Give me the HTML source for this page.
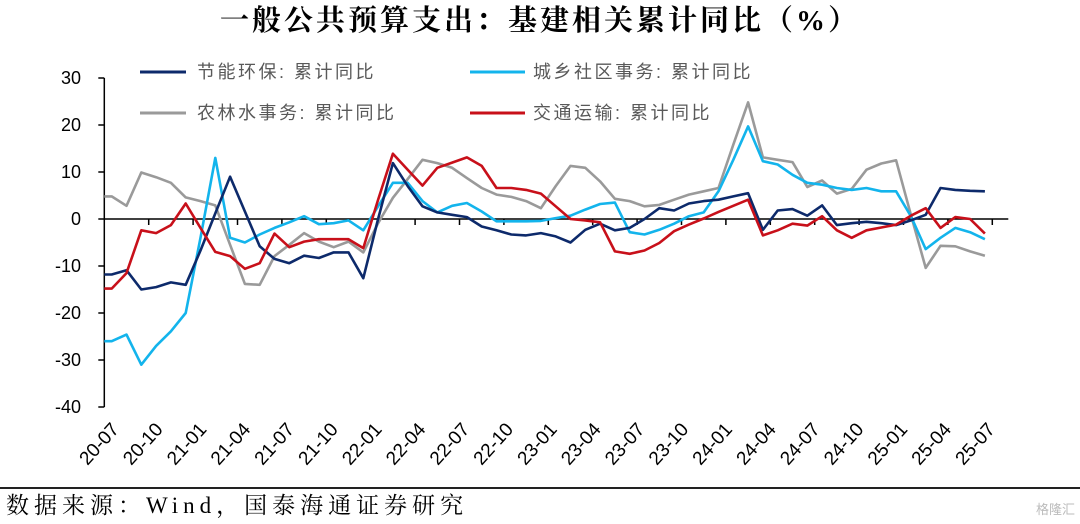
<!DOCTYPE html>
<html><head><meta charset="utf-8"><style>
body{margin:0;background:#fff;}
svg{display:block;}
</style></head><body>
<svg id="chart" width="1080" height="524" xmlns="http://www.w3.org/2000/svg">
<text x="540" y="30" text-anchor="middle" font-family="'Liberation Serif','Noto Serif CJK SC',serif" font-size="29" font-weight="bold" letter-spacing="3" fill="#000">一般公共预算支出：基建相关累计同比（%）</text>
<g id="plot"></g>
<g font-family="'Liberation Sans','Noto Sans CJK SC',sans-serif" font-size="18" letter-spacing="2.5" fill="#595959">
<g><line x1="140" y1="72" x2="186" y2="72" stroke="#0d2a6b" stroke-width="3"/><text x="197" y="78">节能环保: 累计同比</text></g>
<g><line x1="470" y1="72" x2="525" y2="72" stroke="#13b4ec" stroke-width="3"/><text x="533" y="78">城乡社区事务: 累计同比</text></g>
<g><line x1="140" y1="113" x2="186" y2="113" stroke="#9a9a9a" stroke-width="3"/><text x="197" y="119">农林水事务: 累计同比</text></g>
<g><line x1="470" y1="113" x2="525" y2="113" stroke="#c8101a" stroke-width="3"/><text x="533" y="119">交通运输: 累计同比</text></g>
</g>
<line x1="0" y1="488" x2="1080" y2="488" stroke="#222" stroke-width="2"/>
<text x="6" y="513" font-family="'Liberation Serif','Noto Serif CJK SC',serif" font-size="23" letter-spacing="5" fill="#000">数据来源：Wind，国泰海通证券研究</text>
<text x="1075" y="514" text-anchor="end" font-family="'Liberation Sans','Noto Sans CJK SC',sans-serif" font-size="13" fill="#bbb">格隆汇</text>
</svg>
<script>
const xLabels=["20-07","20-10","21-01","21-04","21-07","21-10","22-01","22-04","22-07","22-10","23-01","23-04","23-07","23-10","24-01","24-04","24-07","24-10","25-01","25-04","25-07"];
const yTicks=[30,20,10,0,-10,-20,-30,-40];
const energy=[-11.8,-10.9,-15,-14.5,-13.5,-14,-6.7,1.2,9,1.6,-5.8,-8.5,-9.4,-7.8,-8.3,-7.1,-7.1,-12.6,0,11.9,7,2.7,1.4,0.9,0.4,-1.6,-2.4,-3.3,-3.5,-3,-3.7,-5,-2.3,-1,-2.4,-1.9,0,2.3,1.8,3.3,3.8,4.1,4.8,5.5,-2.3,1.8,2.1,0.7,2.9,-1.3,-0.9,-0.6,-0.9,-1.3,-0.3,0.9,6.6,6.2,6,5.9];
const urban=[-26,-24.6,-31,-27,-23.9,-20,-4,13,-4,-5,-3.3,-1.9,-0.7,0.6,-1.1,-0.9,-0.3,-2.4,2.7,7.7,7.7,3.8,1.4,2.8,3.4,1.6,-0.5,-0.5,-0.5,-0.4,0.2,0.7,2,3.2,3.5,-2.8,-3.3,-2.3,-1,0.6,1.4,5.9,12.6,19.7,12.3,11.6,9.4,7.7,7.3,6.6,6.2,6.6,5.9,5.9,0.6,-6.4,-4,-1.9,-2.8,-4.3];
const agri=[4.8,2.8,9.9,8.9,7.7,4.6,3.8,2.9,-5.5,-13.8,-14,-7.9,-5.5,-3,-4.8,-6,-4.8,-7.1,-0.9,4.5,8.5,12.6,11.9,10.9,8.7,6.6,5.2,4.7,3.8,2.3,7,11.3,10.9,8,4.3,3.8,2.7,3,4.1,5.2,5.9,6.6,15.8,24.8,13.1,12.6,12.1,6.8,8.2,5.4,6.4,10.5,11.8,12.5,0.9,-10.4,-5.7,-5.8,-6.9,-7.8];
const transport=[-14.8,-11.5,-2.4,-3,-1.3,3.3,-1.9,-7,-7.9,-10.6,-9.4,-3.1,-6,-4.8,-4.3,-4.3,-4.3,-6.2,4.1,13.9,10.5,7.1,10.9,12,13.1,11.3,6.6,6.6,6.2,5.4,2.7,0,-0.3,-0.7,-6.9,-7.4,-6.7,-5.1,-2.6,-1.2,0.1,1.5,2.8,4.1,-3.5,-2.4,-1,-1.4,0.6,-2.4,-4,-2.4,-1.8,-1.2,0.7,2.3,-1.9,0.4,0,-3.1];

const NS="http://www.w3.org/2000/svg";
const g=document.getElementById('plot');
const X0=104.3, X1=992.3, N=energy.length, W=(X1-X0)/N;
const xs=i=>X0+(i+0.5)*W;
const ys=v=>219-v*4.7;
function mk(t,a){const e=document.createElementNS(NS,t);for(const k in a)e.setAttribute(k,a[k]);g.appendChild(e);return e;}
let ax=mk('line',{x1:X0,y1:ys(30),x2:X0,y2:ys(-40),stroke:'#000','stroke-width':1.5});


yTicks.forEach(v=>{
  const t=mk('line',{x1:X0-6,y1:ys(v),x2:X0,y2:ys(v),stroke:'#000','stroke-width':1.5});
  
  
  const l=mk('text',{x:81,y:ys(v)+6,'text-anchor':'end','font-family':"'Liberation Sans',sans-serif",'font-size':18,fill:'#000'});
  l.textContent=v;
  
  
});
const xa=mk('line',{x1:X0,y1:ys(0),x2:X1+16,y2:ys(0),stroke:'#000','stroke-width':1.5});


for(let m=0;m<xLabels.length-1;m++){
  const tx=X0+(3*m+3)*W;
  const t=mk('line',{x1:tx,y1:ys(0),x2:tx,y2:ys(0)+6,stroke:'#000','stroke-width':1.5});
  
  
}
xLabels.forEach((s,m)=>{
  const ex=120+43.8*m, ey=430;
  const l=mk('text',{x:ex,y:ey,'text-anchor':'end','font-family':"'Liberation Sans',sans-serif",'font-size':19,fill:'#000',transform:`rotate(-48 ${ex} ${ey})`});
  l.textContent=s;
  
  
});
function series(arr,color,name){
  const d='M'+X0.toFixed(1)+','+ys(arr[0]).toFixed(1)+' '+arr.map((v,i)=>'L'+xs(i).toFixed(1)+','+ys(v).toFixed(1)).join(' ');
  const p=mk('path',{d:d,fill:'none',stroke:color,'stroke-width':2.6,'stroke-linejoin':'round'});
  
  
}
series(agri,'#9a9a9a','agri-water-line');
series(urban,'#13b4ec','urban-community-line');
series(energy,'#0d2a6b','energy-environment-line');
series(transport,'#c8101a','transport-line');
</script>
</body></html>
